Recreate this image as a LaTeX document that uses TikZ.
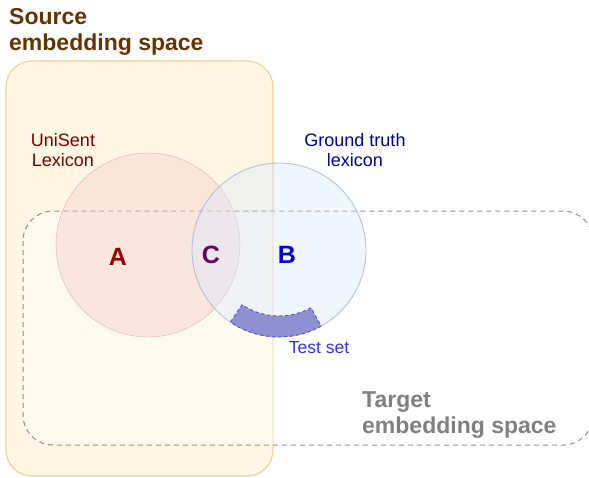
\documentclass[tikz,border=0pt]{standalone}
\usepackage{fontspec}
\setmainfont{Liberation Sans}
\usepackage{tikz}

\definecolor{srcfill}{HTML}{FFF7E4}
\definecolor{srcline}{HTML}{EAD39C}
\definecolor{srctext}{HTML}{663300}
\definecolor{unifill}{HTML}{F8CECC}
\definecolor{uniline}{HTML}{C9807C}
\definecolor{unitext}{HTML}{800000}
\definecolor{gtfill}{HTML}{DAE8FC}
\definecolor{gtline}{HTML}{9FB6DD}
\definecolor{gttext}{HTML}{000099}
\definecolor{testfill}{HTML}{7F7FCC}
\definecolor{testline}{HTML}{4C4CDD}
\definecolor{testtext}{HTML}{3333FF}
\definecolor{lettAcol}{HTML}{990000}
\definecolor{lettCcol}{HTML}{660066}
\definecolor{lettBcol}{HTML}{0000CC}

\tikzset{
    head/.style={font=\bfseries\fontsize{23}{26}\selectfont, align=left, inner sep=0pt},
    lbl/.style={font=\fontsize{18}{20}\selectfont, align=center, inner sep=0pt},
    letter/.style={font=\bfseries\fontsize{25}{28}\selectfont, inner sep=0pt}
}

\begin{document}
\begin{tikzpicture}[x=1pt, y=-1pt]
    \useasboundingbox (0,0) rectangle (589,477);
    \coordinate (A) at (148,245);
    \coordinate (B) at (279,250);

    % the two spaces
    \draw[srcline, fill=srcfill, line width=1.2pt, rounded corners=26pt] (6,61) rectangle (273,476);
    \draw[black!45, fill=white, fill opacity=0.4, dashed, line width=1pt, dash pattern=on 5pt off 4pt, rounded corners=30pt] (23,211) rectangle (593,445);

    % the two lexicons
    \draw[uniline, draw opacity=0.55, fill=unifill, fill opacity=0.45] (A) circle[radius=92];
    \draw[gtline, draw opacity=0.8, fill=gtfill, fill opacity=0.4, line width=0.9pt] (B) circle[radius=87];
    \draw[testline, fill=testfill, fill opacity=0.85, dashed, line width=0.9pt]
        (B) ++(61:87) arc[start angle=61, end angle=124, radius=87]
        -- ([shift={(124:66)}]B) arc[start angle=124, end angle=61, radius=66] -- cycle;

    % labels
    \node[head, text=srctext, anchor=base west] (srclbl) at (9,50) {Source\\embedding space};
    \node[head, text=black!50, anchor=base west] (tgtlbl) at (362,433) {Target\\embedding space};
    \node[lbl, text=unitext, anchor=base] (unilbl) at (63,166) {UniSent\\Lexicon};
    \node[lbl, text=gttext, anchor=base] (gtlbl) at (355,166) {Ground truth\\lexicon};
    \node[lbl, text=testtext, font=\fontsize{17.5}{20}\selectfont, anchor=base] (testlbl) at (319,353) {Test set};
    \node[letter, text=lettAcol] (lettA) at (118,257) {A};
    \node[letter, text=lettCcol] (lettC) at (211,255) {C};
    \node[letter, text=lettBcol] (lettB) at (287,255) {B};
\end{tikzpicture}
\end{document}
